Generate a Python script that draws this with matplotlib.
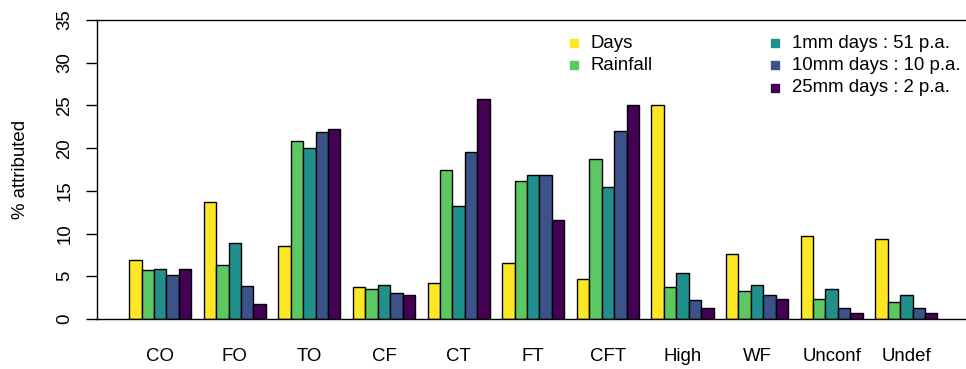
import matplotlib
matplotlib.use("Agg")
import matplotlib.pyplot as plt
from matplotlib.lines import Line2D
import numpy as np

plt.rcParams['font.family'] = ['Liberation Sans', 'DejaVu Sans']

categories = ["CO", "FO", "TO", "CF", "CT", "FT", "CFT", "High", "WF", "Unconf", "Undef"]
series_names = ["Days", "Rainfall", "1mm days : 51 p.a.", "10mm days : 10 p.a.", "25mm days : 2 p.a."]
days      = [6.9, 13.7, 8.5, 3.7, 4.2, 6.5, 4.7, 25.1, 7.6, 9.7, 9.4]
rainfall  = [5.7, 6.3, 20.8, 3.5, 17.4, 16.2, 18.7, 3.8, 3.3, 2.3, 2.0]
mm1       = [5.9, 8.9, 20.0, 4.0, 13.2, 16.9, 15.4, 5.4, 4.0, 3.5, 2.8]
mm10      = [5.2, 3.9, 21.9, 3.1, 19.5, 16.8, 22.0, 2.2, 2.8, 1.3, 1.3]
mm25      = [5.9, 1.8, 22.2, 2.8, 25.8, 11.6, 25.0, 1.3, 2.3, 0.7, 0.7]
colors = ["#FDE725", "#5DC863", "#21908C", "#3B528B", "#440154"]
yticks = [0, 5, 10, 15, 20, 25, 30, 35]

FS = 13.4
W, H = 966, 369
fig = plt.figure(figsize=(W/100, H/100), dpi=100)
ax = fig.add_axes([97/W, (H-319)/H, (966-97)/W, (319-20)/H])

data = [days, rainfall, mm1, mm10, mm25]
n = len(categories)
for j, vals in enumerate(data):
    x = np.arange(n)*6 + 1 + j + 0.5
    ax.bar(x, vals, width=1.0, color=colors[j], edgecolor='black', linewidth=1.0)

ax.set_xlim(-1.58, 68.3)
ax.set_ylim(0, 35)
ax.set_yticks(yticks)
ax.set_yticklabels([str(t) for t in yticks], rotation=90, va='center', fontsize=FS)
ax.tick_params(axis='y', length=8, width=1, pad=9)
ax.set_xticks(np.arange(n)*6 + 3.5)
ax.set_xticklabels(categories, fontsize=FS)
ax.tick_params(axis='x', length=0, pad=21)
ax.spines['right'].set_visible(False)
for s in ['left', 'top', 'bottom']:
    ax.spines[s].set_linewidth(1.0)
ax.set_ylabel("% attributed", fontsize=FS)
ax.yaxis.set_label_coords((29-97)/(966-97), 0.5)

# legend
def fx(px): return px / W
def fy(py): return (H - py) / H
left_items = [(0, 43), (1, 65)]
right_items = [(2, 43), (3, 65), (4, 88)]
for idx, yy in left_items:
    fig.add_artist(Line2D([fx(574)], [fy(yy)], marker='s', markersize=6, color=colors[idx],
                          linestyle='none', transform=fig.transFigure))
    fig.text(fx(591), fy(yy), series_names[idx], fontsize=FS, va='center', ha='left')
for idx, yy in right_items:
    fig.add_artist(Line2D([fx(775)], [fy(yy)], marker='s', markersize=6, color=colors[idx],
                          linestyle='none', transform=fig.transFigure))
    fig.text(fx(792), fy(yy), series_names[idx], fontsize=FS, va='center', ha='left')

fig.savefig("out.png", dpi=100)
